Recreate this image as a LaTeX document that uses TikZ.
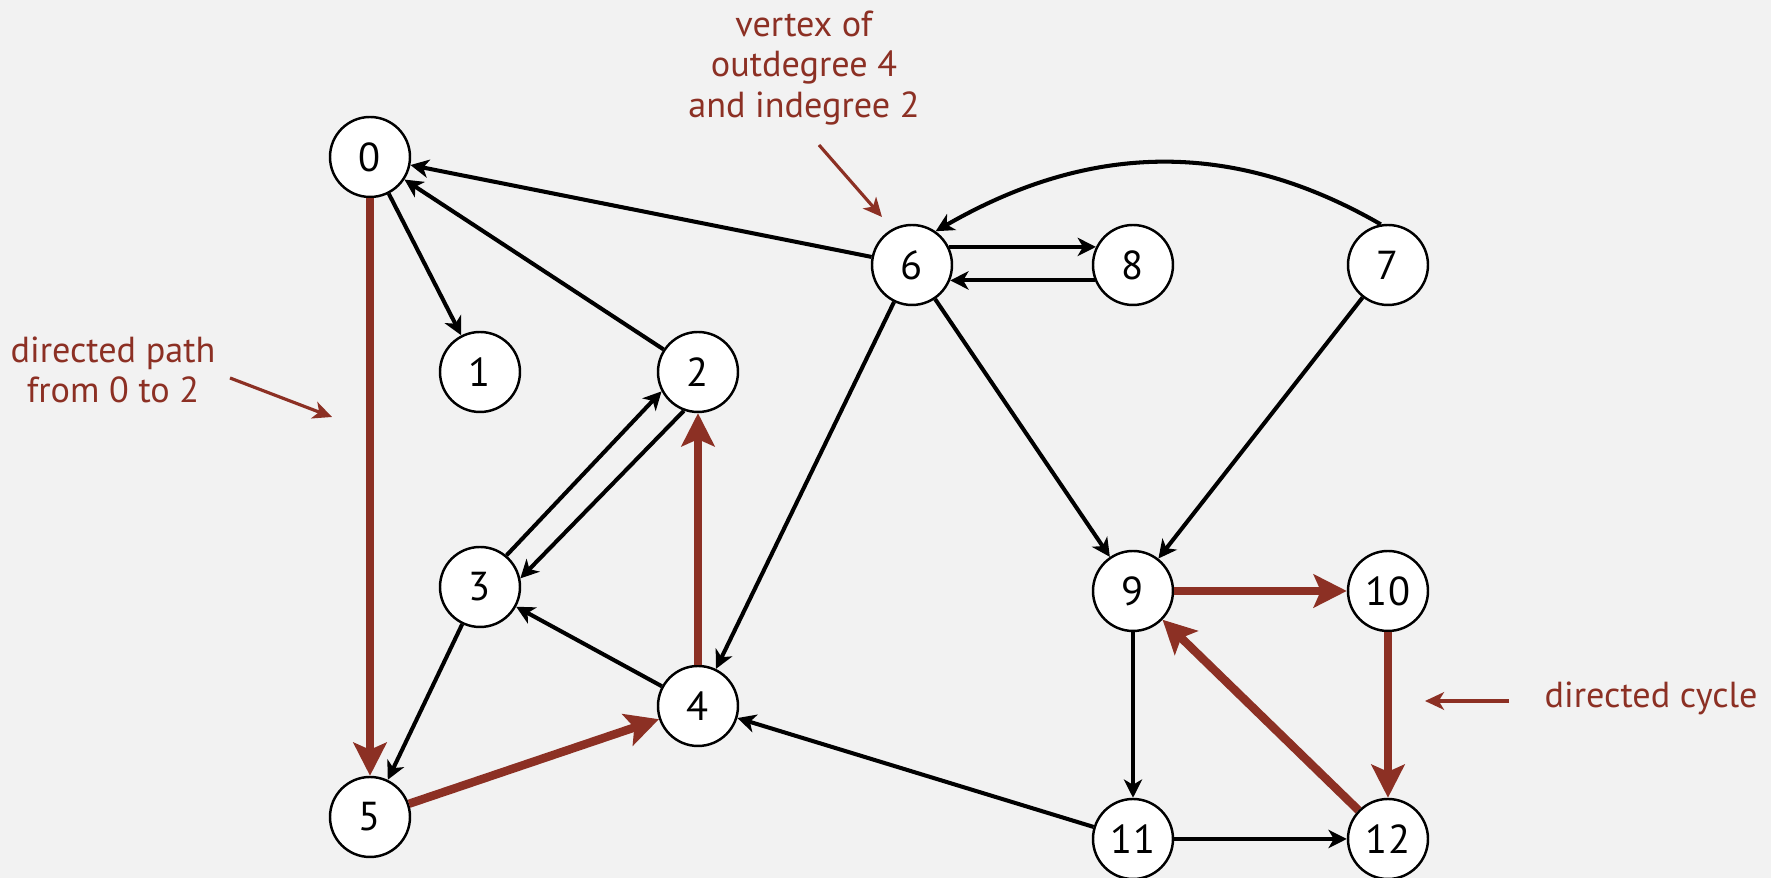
\documentclass[tikz,border=0pt]{standalone}
\usepackage{fontspec}
\setmainfont{PT Sans}
\usepackage{xcolor}
\usepackage{tikz}
\usetikzlibrary{arrows.meta}
\definecolor{pathred}{RGB}{140,48,36}
\definecolor{slidegray}{RGB}{242,242,242}
\tikzset{ vertex/.style = {circle, draw, fill=white, line width=0.7pt, minimum size=0.8cm, inner sep=0pt, font=\fontsize{11.5}{13}\selectfont} }
\tikzset{ note_text/.style = {text=pathred, align=center, inner sep=0pt, font=\fontsize{10.3}{11.6}\selectfont} }
\tikzset{ >={Stealth[length=5.2pt, width=5.2pt, inset=1.5pt]} }
\tikzset{ dir_edge/.style = {->, line width=1.15pt} }
\tikzset{ red_edge/.style = {draw=pathred, line width=2.4pt, -{Stealth[length=9.4pt, width=9.4pt, inset=2pt]}} }
\tikzset{ note_arrow/.style = {draw=pathred, line width=0.9pt, -{Stealth[length=5.4pt, width=5pt, inset=1.5pt]}} }

\begin{document}
\begin{tikzpicture}
                        \useasboundingbox (0,0) rectangle (17.71,8.78);
                        \fill[slidegray] (0,0) rectangle (17.71,8.78);
                        \node[vertex] (0) at (3.70, 7.21) {0};
                        \node[vertex] (1) at (4.80, 5.06) {1};
                        \node[vertex] (2) at (6.98, 5.06) {2};
                        \node[vertex] (3) at (4.80, 2.91) {3};
                        \node[vertex] (4) at (6.98, 1.72) {4};
                        \node[vertex] (5) at (3.70, 0.61) {5};
                        \node[vertex] (6) at (9.12, 6.13) {6};
                        \node[vertex] (7) at (13.88, 6.13) {7};
                        \node[vertex] (8) at (11.33, 6.13) {8};
                        \node[vertex] (9) at (11.33, 2.87) {9};
                        \node[vertex] (10) at (13.88, 2.87) {10};
                        \node[vertex] (11) at (11.33, 0.39) {11};
                        \node[vertex] (12) at (13.88, 0.39) {12};
                        \draw[dir_edge] (0) to (1);
                        \draw[dir_edge] (2) to (0);
                        \draw[dir_edge] (6) to (0);
                        \draw[dir_edge] (6.26) to (8.154);
                        \draw[dir_edge] (8.202) to (6.338);
                        \draw[dir_edge] (7.100) to[out=150, in=30] (6.55);
                        \draw[dir_edge] (6) to (4);
                        \draw[dir_edge] (6) to (9);
                        \draw[dir_edge] (7) to (9);
                        \draw[dir_edge] (3.50) to (2.208);
                        \draw[dir_edge] (2.250) to (3.12);
                        \draw[dir_edge] (4) to (3);
                        \draw[dir_edge] (3) to (5);
                        \draw[dir_edge] (9) to (11);
                        \draw[dir_edge] (11) to (4);
                        \draw[dir_edge] (11) to (12);
                        \draw[red_edge] (0) to (5);
                        \draw[red_edge] (5) to (4);
                        \draw[red_edge] (4) to (2);
                        \draw[red_edge] (9) to (10);
                        \draw[red_edge] (10) to (12);
                        \draw[red_edge] (12) to (9);
                        % notes
                        \node[note_text] (deg_label) at (8.04, 8.10) {vertex of\\outdegree 4\\and indegree 2};
                        \node[note_text] (path_label) at (1.13, 5.08) {directed path\\from 0 to 2};
                        \node[note_text, anchor=base west] (cycle_label) at (15.44, 1.70) {directed cycle};
                        \coordinate (deg_tail) at (8.19, 7.33);
                        \coordinate (deg_head) at (8.82, 6.61);
                        \coordinate (path_tail) at (2.30, 5.00);
                        \coordinate (path_head) at (3.32, 4.61);
                        \coordinate (cycle_tail) at (15.09, 1.77);
                        \coordinate (cycle_head) at (14.25, 1.77);
                        \draw[note_arrow] (deg_tail) to (deg_head);
                        \draw[note_arrow] (path_tail) to (path_head);
                        \draw[note_arrow] (cycle_tail) to (cycle_head);
                \end{tikzpicture}
\end{document}
